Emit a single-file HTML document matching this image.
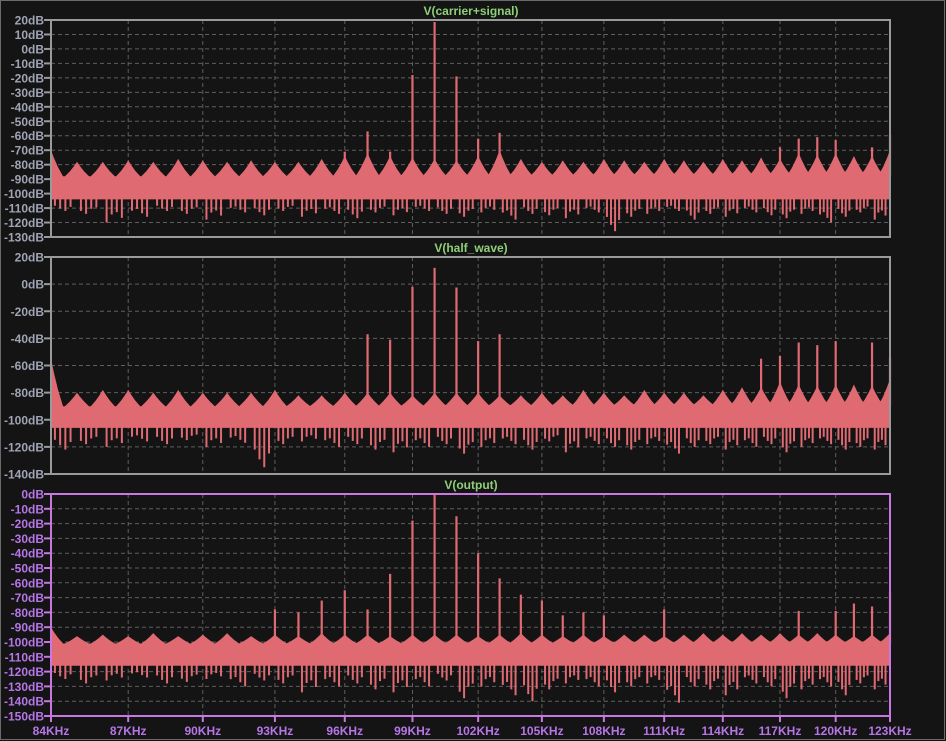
<!DOCTYPE html>
<html><head><meta charset="utf-8"><style>
html,body{margin:0;padding:0;background:#141414;}
svg{display:block;}
text{font-family:"Liberation Sans",sans-serif;font-weight:bold;font-size:12px;}
</style></head><body>
<svg id="chart" width="946" height="741" viewBox="0 0 946 741" xmlns="http://www.w3.org/2000/svg">
<rect x="0" y="0" width="946" height="741" fill="#141414"/>
<rect x="0.5" y="0.5" width="944" height="739" fill="none" stroke="#6a6a6a"/>
</svg>
<script>
// ---- data ----
const xTicks = [84,87,90,93,96,99,102,105,108,111,114,117,120,123];
const humpFreqs = [84,85,86,87,88,89,90,91,92,93,94,95,96,97,98,99,100,101,102,103,104,105,106,107,108,109,110,111,112,113,114,115,116,117,118,119,120,121,122,123];
const p1Humps = [-70,-78,-78,-77,-78,-76,-77,-78,-77,-78,-78,-76,-74,-72,-74,-75,-76,-77,-74,-70,-76,-78,-77,-78,-76,-77,-78,-76,-77,-78,-76,-77,-75,-76,-72,-73,-72,-74,-74,-70];
const p1Dips = [-112,-114,-120,-116,-112,-114,-118,-113,-115,-112,-116,-114,-117,-113,-115,-112,-114,-116,-113,-118,-114,-115,-117,-113,-126,-116,-114,-112,-118,-114,-116,-113,-115,-117,-114,-120,-116,-113,-118,-114];
const p1SpikeF = [96,97,98,99,100,101,102,103,117,118,119,120,122,123];
const p1SpikeDb = [-71,-57,-71,-18,18.6,-19,-62,-58,-68,-62,-61,-63,-68,-59];
const p2Humps = [-55,-80,-78,-78,-80,-78,-80,-80,-80,-78,-82,-82,-80,-80,-80,-82,-80,-80,-80,-82,-82,-80,-82,-78,-80,-82,-78,-80,-80,-82,-78,-76,-76,-72,-74,-75,-74,-74,-75,-70];
const p2Dips = [-122,-118,-120,-116,-118,-115,-120,-117,-135,-118,-116,-120,-118,-122,-124,-120,-118,-125,-120,-118,-122,-116,-124,-118,-120,-122,-118,-125,-120,-118,-122,-120,-118,-124,-120,-118,-122,-120,-122,-118];
const p2SpikeF = [97,98,99,100,101,102,103,116,117,118,119,120,122,123];
const p2SpikeDb = [-37,-41,-2,12,-2.5,-42,-37,-55,-53,-43,-45,-42,-43,-54];
const p3Humps = [-90,-96,-95,-96,-94,-96,-95,-94,-96,-95,-96,-94,-95,-95,-96,-95,-95,-95,-96,-95,-94,-95,-96,-95,-96,-95,-95,-96,-95,-94,-95,-94,-95,-94,-95,-94,-95,-96,-95,-94];
const p3Dips = [-125,-128,-126,-124,-128,-127,-125,-130,-126,-128,-134,-130,-128,-132,-134,-130,-126,-138,-130,-136,-140,-132,-128,-130,-134,-130,-128,-141,-130,-132,-136,-128,-130,-138,-132,-130,-136,-128,-132,-130];
const p3SpikeF = [93,94,95,96,97,98,99,100,101,102,103,104,105,106,107,108,111,118,120,121,122,123];
const p3SpikeDb = [-78,-80,-72,-65,-78,-54,-18,0,-15,-40,-57,-68,-72,-82,-80,-82,-78,-79,-79,-74,-76,-66];
const p1YTicks = [20,10,0,-10,-20,-30,-40,-50,-60,-70,-80,-90,-100,-110,-120,-130];
const p2YTicks = [20,0,-20,-40,-60,-80,-100,-120,-140];
const p3YTicks = [0,-10,-20,-30,-40,-50,-60,-70,-80,-90,-100,-110,-120,-130,-140,-150];

// ---- drawing ----
const NS = "http://www.w3.org/2000/svg";
const svg = document.getElementById('chart');
const X0 = 51, X1 = 890, F0 = 84, F1 = 123;
function xs(f){ return X0 + (X1-X0)*Math.log10(f/F0)/Math.log10(F1/F0); }
function mk(tag, attrs, parent){
  const e = document.createElementNS(NS, tag);
  for (const k in attrs) e.setAttribute(k, attrs[k]);
  (parent||svg).appendChild(e); return e;
}
const TRACE = "#e06a72";
const dipOffsets = [0.15, 0.35, 0.55, 0.75];
const dipScale = [0.55, 0.8, 1.0, 0.65];
const panels = [
  {top:20,bot:237,dmax:20,dmin:-130,ticks:p1YTicks,humps:p1Humps,dips:p1Dips,sf:p1SpikeF,sd:p1SpikeDb,bandTop:-88,bandBot:-104,title:"V(carrier+signal)",frame:"#9a9a9a",lab:"#a0a4b4",name:"carrier-signal"},
  {top:257,bot:474,dmax:20,dmin:-140,ticks:p2YTicks,humps:p2Humps,dips:p2Dips,sf:p2SpikeF,sd:p2SpikeDb,bandTop:-90,bandBot:-106,title:"V(half_wave)",frame:"#9a9a9a",lab:"#a0a4b4",name:"half-wave"},
  {top:494,bot:716,dmax:0,dmin:-150,ticks:p3YTicks,humps:p3Humps,dips:p3Dips,sf:p3SpikeF,sd:p3SpikeDb,bandTop:-101,bandBot:-116,title:"V(output)",frame:"#c878e0",lab:"#b676e6",name:"output"}
];
panels.forEach((p, pi) => {
  const ys = d => p.top + (p.dmax - d)*(p.bot-p.top)/(p.dmax-p.dmin);
  const g = mk('g', {});
  
  
  p.ticks.forEach((t,i) => {
    if (i>0 && i<p.ticks.length-1) {
      const l = mk('line',{x1:X0,x2:X1,y1:ys(t),y2:ys(t),stroke:"#5e5e5e","stroke-dasharray":"4,3"},g);
      
      
    }
    const tk = mk('line',{x1:X0-7,x2:X0,y1:ys(t),y2:ys(t),stroke:p.frame,"stroke-width":2},g);
    
    
    const tx = mk('text',{x:X0-7,y:ys(t)+4.5,"text-anchor":"end",fill:p.lab},g);
    tx.textContent = t + "dB";
    
    
  });
  xTicks.forEach((f,i) => {
    if (i>0 && i<xTicks.length-1) {
      const l = mk('line',{x1:xs(f),x2:xs(f),y1:p.top,y2:p.bot,stroke:"#5e5e5e","stroke-dasharray":"4,3"},g);
      
      
    }
  });
  // noise band polygon
  let pts = [];
  pts.push([X0, ys(p.bandTop)]);
  humpFreqs.forEach((f,i) => {
    const xc = xs(f), hw = 5;
    const h = p.humps[i], b = p.bandTop;
    pts.push([Math.max(X0,xc-hw*2.4), ys(b)]);
    pts.push([Math.max(X0,xc-hw*1.4), ys(b+(h-b)*0.35)]);
    pts.push([Math.max(X0,xc-hw*0.6), ys(b+(h-b)*0.7)]);
    pts.push([xc, ys(h)]);
    pts.push([Math.min(X1,xc+hw*0.6), ys(b+(h-b)*0.7)]);
    pts.push([Math.min(X1,xc+hw*1.4), ys(b+(h-b)*0.35)]);
    pts.push([Math.min(X1,xc+hw*2.4), ys(b)]);
  });
  pts.push([X1, ys(p.bandTop)]);
  pts.push([X1, ys(p.bandBot)]);
  pts.push([X0, ys(p.bandBot)]);
  const band = mk('polygon',{points:pts.map(q=>q[0].toFixed(1)+","+q[1].toFixed(1)).join(" "),fill:TRACE},g);
  
  
  // dips
  humpFreqs.forEach((f,i) => {
    dipOffsets.forEach((o,j) => {
      let ff = f + o; if (ff > F1) return;
      const depth = p.bandBot + (p.dips[i]-p.bandBot)*dipScale[(i+j)%4];
      const xf = xs(ff);
      const l = mk('line',{x1:xf,x2:xf,y1:ys(p.bandBot)-1,y2:ys(depth),stroke:TRACE,"stroke-width":2},g);
      
      
    });
  });
  // spikes
  p.sf.forEach((f,i) => {
    const l = mk('line',{x1:xs(f),x2:xs(f),y1:ys(p.bandTop),y2:ys(p.sd[i]),stroke:TRACE,"stroke-width":2.2},g);
    
    
  });
  const fr = mk('rect',{x:X0,y:p.top,width:X1-X0,height:p.bot-p.top,fill:"none",stroke:p.frame,"stroke-width":2},g);
  
  
  const tt = mk('text',{x:471,y:p.top-5,"text-anchor":"middle",fill:"#8fcf78"},g);
  tt.textContent = p.title;
  
  
});
xTicks.forEach(f => {
  const l = mk('line',{x1:xs(f),x2:xs(f),y1:716,y2:722,stroke:"#c878e0","stroke-width":2});
  
  
  const t = mk('text',{x:xs(f),y:735,"text-anchor":"middle",fill:"#b676e6"});
  t.textContent = f + "KHz";
  
  
});
</script>
</body></html>
